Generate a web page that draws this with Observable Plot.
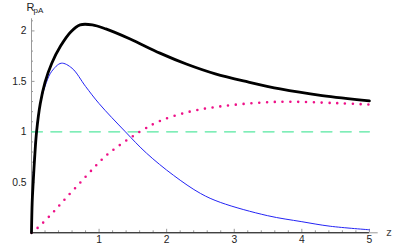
<!DOCTYPE html>
<html>
<head>
<meta charset="utf-8">
<script src="https://cdn.jsdelivr.net/npm/d3@7"></script>
<script src="https://cdn.jsdelivr.net/npm/@observablehq/plot@0.6"></script>
<style>
  html, body { margin: 0; padding: 0; background: #fff; }
  #chart svg { display: block; }
</style>
</head>
<body>
<div id="chart"></div>
<script>
// ---- data ----
const blackZ = [0, 0.01, 0.025, 0.05, 0.075, 0.13, 0.2, 0.3, 0.43, 0.58, 0.72, 0.9, 1.1, 1.46, 1.9, 2.3, 2.72, 3.2, 3.68, 4.3, 5.0];
const blackY = [0, 0.3, 0.5, 0.78, 1.0, 1.28, 1.49, 1.68, 1.85, 1.99, 2.06, 2.06, 2.02, 1.92, 1.78, 1.67, 1.575, 1.495, 1.425, 1.36, 1.307];

const blueZ = [0, 0.01, 0.02, 0.045, 0.07, 0.13, 0.22, 0.3, 0.44, 0.6, 0.8, 1.0, 1.39, 1.7, 2.1, 2.5, 2.8, 3.49, 4.0, 4.42, 5.0];
const blueY = [0, 0.3, 0.5, 0.78, 1.0, 1.28, 1.49, 1.6, 1.68, 1.63, 1.45, 1.28, 1.0, 0.79, 0.57, 0.39, 0.30, 0.17, 0.11, 0.065, 0.03];

const pinkZ = [0, 0.093, 0.33, 0.49, 0.725, 0.96, 1.13, 1.6, 1.91, 2.34, 2.77, 3.61, 4.53, 5.0];
const pinkY = [0, 0.05, 0.21, 0.33, 0.5, 0.67, 0.78, 1.0, 1.11, 1.2, 1.25, 1.297, 1.284, 1.27];

const refLevel = [1];
const refZ = [0, 5];

const xTicks = [1, 2, 3, 4, 5];
const yTicks = [0.5, 1, 1.5, 2];
const xMinor = [0.2,0.4,0.6,0.8,1.2,1.4,1.6,1.8,2.2,2.4,2.6,2.8,3.2,3.4,3.6,3.8,4.2,4.4,4.6,4.8];
const yMinor = [0.1,0.2,0.3,0.4,0.6,0.7,0.8,0.9,1.1,1.2,1.3,1.4,1.6,1.7,1.8,1.9,2.1];

const xLabel = "z";
const yLabelMain = "R";
const yLabelSub = "pA";

// ---- tables ----
const black = blackZ.map((z, i) => ({z, y: blackY[i]}));
const blue = blueZ.map((z, i) => ({z, y: blueY[i]}));
const pink = pinkZ.map((z, i) => ({z, y: pinkY[i]}));
const ref = refZ.map(z => ({z, y: refLevel[0]}));

const X_MAX = 5.13, Y_MAX = 2.12;
const pxY = Y_MAX / 214;   // y units per pixel
const pxX = X_MAX / 346.7; // x units per pixel

const chart = Plot.plot({
  width: 400,
  height: 247,
  marginLeft: 31,
  marginRight: 22.3,
  marginTop: 18.3,
  marginBottom: 14.7,
  style: {fontFamily: "'Liberation Sans', Arial, sans-serif", fontSize: "10.3px", color: "#222", background: "#fff"},
  x: {domain: [0, X_MAX], axis: null},
  y: {domain: [0, Y_MAX], axis: null},
  marks: [
    // axes lines
    Plot.ruleY([0], {x1: 0, x2: X_MAX, stroke: "#999", strokeWidth: 1}),
    Plot.ruleX([0], {y1: 0, y2: Y_MAX, stroke: "#999", strokeWidth: 1}),
    // minor / major ticks
    Plot.ruleX(xMinor, {x: d => d, y1: 0, y2: 2 * pxY, stroke: "#999"}),
    Plot.ruleX(xTicks, {x: d => d, y1: 0, y2: 3.5 * pxY, stroke: "#999"}),
    Plot.ruleY(yMinor, {y: d => d, x1: 0, x2: 2 * pxX, stroke: "#999"}),
    Plot.ruleY(yTicks, {y: d => d, x1: 0, x2: 3.5 * pxX, stroke: "#999"}),
    // tick labels
    Plot.axisX(xTicks, {anchor: "bottom", label: null, tickSize: 0, tickPadding: 3, tickFormat: d => String(d), fill: "#222"}),
    Plot.axisY(yTicks, {anchor: "left", label: null, tickSize: 0, tickPadding: 5, tickFormat: d => String(d), fill: "#222"}),
    // dark baseline
    Plot.ruleY([0], {x1: 0, x2: 5, stroke: "#1a1a1a", strokeWidth: 1.1}),
    // reference dashed line
    Plot.line(ref, {x: "z", y: "y", stroke: "#55e8a0", strokeWidth: 1.2, strokeDasharray: "11 8.3"}),
    // curves
    Plot.line(pink, {x: "z", y: "y", curve: "catmull-rom", stroke: "#ee1188", strokeWidth: 2.6, strokeDasharray: "0 7.8", strokeLinecap: "round"}),
    Plot.line(blue, {x: "z", y: "y", curve: "catmull-rom", stroke: "#2424f5", strokeWidth: 1}),
    Plot.line(black, {x: "z", y: "y", curve: "catmull-rom", stroke: "#000", strokeWidth: 2.8}),
    // axis labels
    Plot.text([xLabel], {x: X_MAX, y: 0, text: d => d, dx: 8, textAnchor: "start", fontSize: 11, fill: "#444"}),
    Plot.text([yLabelMain], {x: 0, y: Y_MAX, text: d => d, dx: -5, dy: -7.6, textAnchor: "start", lineAnchor: "bottom", fontSize: 11, fill: "#222"}),
    Plot.text([yLabelSub], {x: 0, y: Y_MAX, text: d => d, dx: 2, dy: -5.6, textAnchor: "start", lineAnchor: "bottom", fontSize: 8, fill: "#222"})
  ]
});
document.getElementById("chart").appendChild(chart);
</script>
</body>
</html>
